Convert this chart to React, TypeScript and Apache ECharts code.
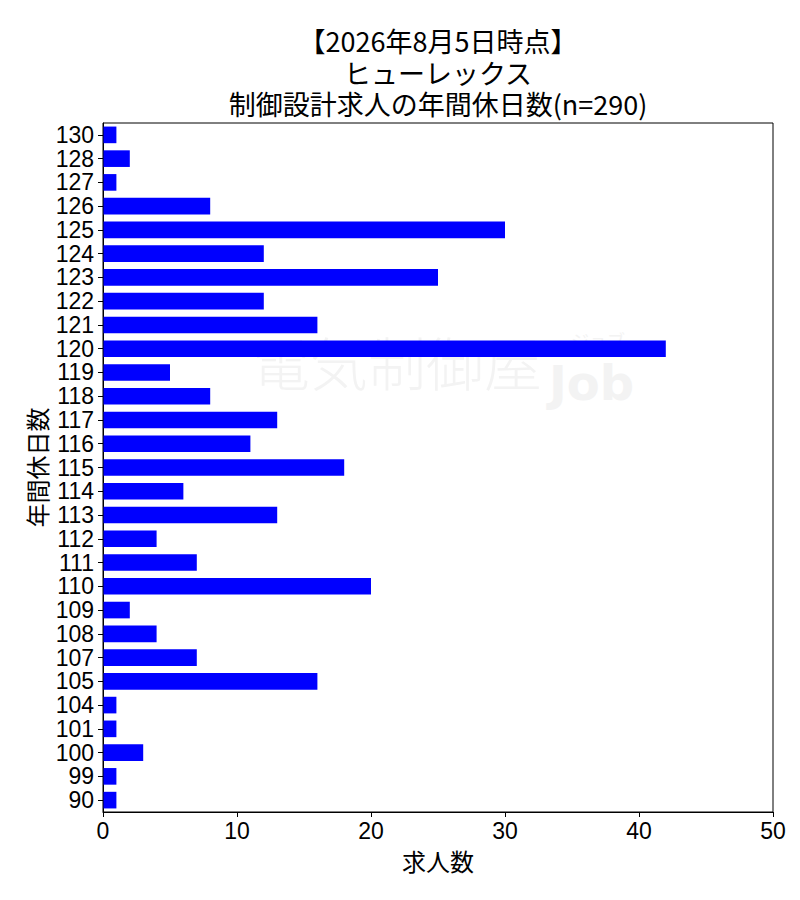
import React, { useEffect, useRef } from "react";
import * as echarts from "echarts";

const categories: string[] = [
  "90", "99", "100", "101", "104", "105", "107", "108", "109", "110",
  "111", "112", "113", "114", "115", "116", "117", "118", "119", "120",
  "121", "122", "123", "124", "125", "126", "127", "128", "130",
];
const counts: number[] = [
  1, 1, 3, 1, 1, 16, 7, 4, 2, 20,
  7, 4, 13, 6, 18, 11, 13, 8, 5, 42,
  16, 12, 25, 12, 30, 8, 1, 2, 1,
];
const xTicks = { min: 0, max: 50, interval: 10 };
const titleLines: string[] = ["【2026年8月5日時点】", "ヒューレックス", "制御設計求人の年間休日数(n=290)"];
const xName = "求人数";
const yName = "年間休日数";

const JP = "'Noto Sans CJK JP', 'Noto Sans', sans-serif";
const NUM = "'Liberation Sans', 'Noto Sans CJK JP', sans-serif";

export default function App() {
  const ref = useRef<HTMLDivElement>(null);
  useEffect(() => {
    if (!ref.current) return;
    const chart = echarts.init(ref.current, undefined, { renderer: "svg" });
    const titleTops = [26, 58, 89];
    chart.setOption({
      animation: false,
      backgroundColor: "#ffffff",
      title: titleLines.map((t, i) => ({
        text: t,
        left: 438,
        top: titleTops[i],
        textAlign: "center",
        padding: 0,
        textStyle: {
          fontFamily: JP,
          fontSize: 27,
          lineHeight: 29,
          fontWeight: "normal",
          color: "#000",
        },
      })),
      graphic: [
        {
          type: "text",
          left: 252,
          top: 332,
          z: 1,
          silent: true,
          style: {
            text: "電気制御屋",
            fontFamily: JP,
            fontSize: 58,
            fontWeight: 300,
            fill: "#f3f3f3",
          },
        },
        {
          type: "text",
          left: 549,
          top: 359,
          z: 1,
          silent: true,
          style: {
            text: "Job",
            fontFamily: "'DejaVu Sans', sans-serif",
            fontSize: 48,
            lineHeight: 46,
            fontWeight: "bold",
            fill: "#f3f3f3",
          },
        },
        {
          type: "text",
          left: 571,
          top: 330,
          z: 1,
          silent: true,
          style: {
            text: "ジョブ",
            fontFamily: JP,
            fontSize: 18,
            lineHeight: 19,
            fill: "#f3f3f3",
          },
        },
      ],
      grid: {
        left: 103,
        right: 27,
        top: 123,
        bottom: 88,
        show: true,
        borderColor: "#000",
        borderWidth: 1,
        backgroundColor: "transparent",
        z: 3,
      },
      xAxis: {
        type: "value",
        min: xTicks.min,
        max: xTicks.max,
        interval: xTicks.interval,
        name: xName,
        nameLocation: "middle",
        nameGap: 36,
        nameMoveOverlap: false,
        nameTextStyle: { fontFamily: JP, fontSize: 24, color: "#000" },
        splitLine: { show: false },
        axisLine: { show: true, lineStyle: { color: "#000", width: 1 } },
        axisTick: { show: true, length: 5, lineStyle: { color: "#000" } },
        axisLabel: { fontFamily: NUM, fontSize: 23, color: "#000", margin: 7 },
      },
      yAxis: {
        type: "category",
        data: categories,
        name: yName,
        nameLocation: "middle",
        nameRotate: 90,
        nameGap: 55,
        nameMoveOverlap: false,
        nameTextStyle: { fontFamily: JP, fontSize: 24, color: "#000" },
        axisLine: { show: true, lineStyle: { color: "#000", width: 1 } },
        axisTick: { show: true, length: 5, alignWithLabel: true, lineStyle: { color: "#000" } },
        axisLabel: {
          interval: 0,
          fontFamily: NUM,
          fontSize: 23,
          color: "#000",
          margin: 9,
        },
        splitLine: { show: false },
      },
      series: [
        {
          type: "bar",
          data: counts,
          barWidth: "70%",
          itemStyle: { color: "#0000ff" },
          z: 2,
        },
      ],
    });
    return () => chart.dispose();
  }, []);
  return (
    <div
      ref={ref}
      style={{ position: "fixed", left: 0, top: 0, width: 800, height: 900 }}
    />
  );
}
